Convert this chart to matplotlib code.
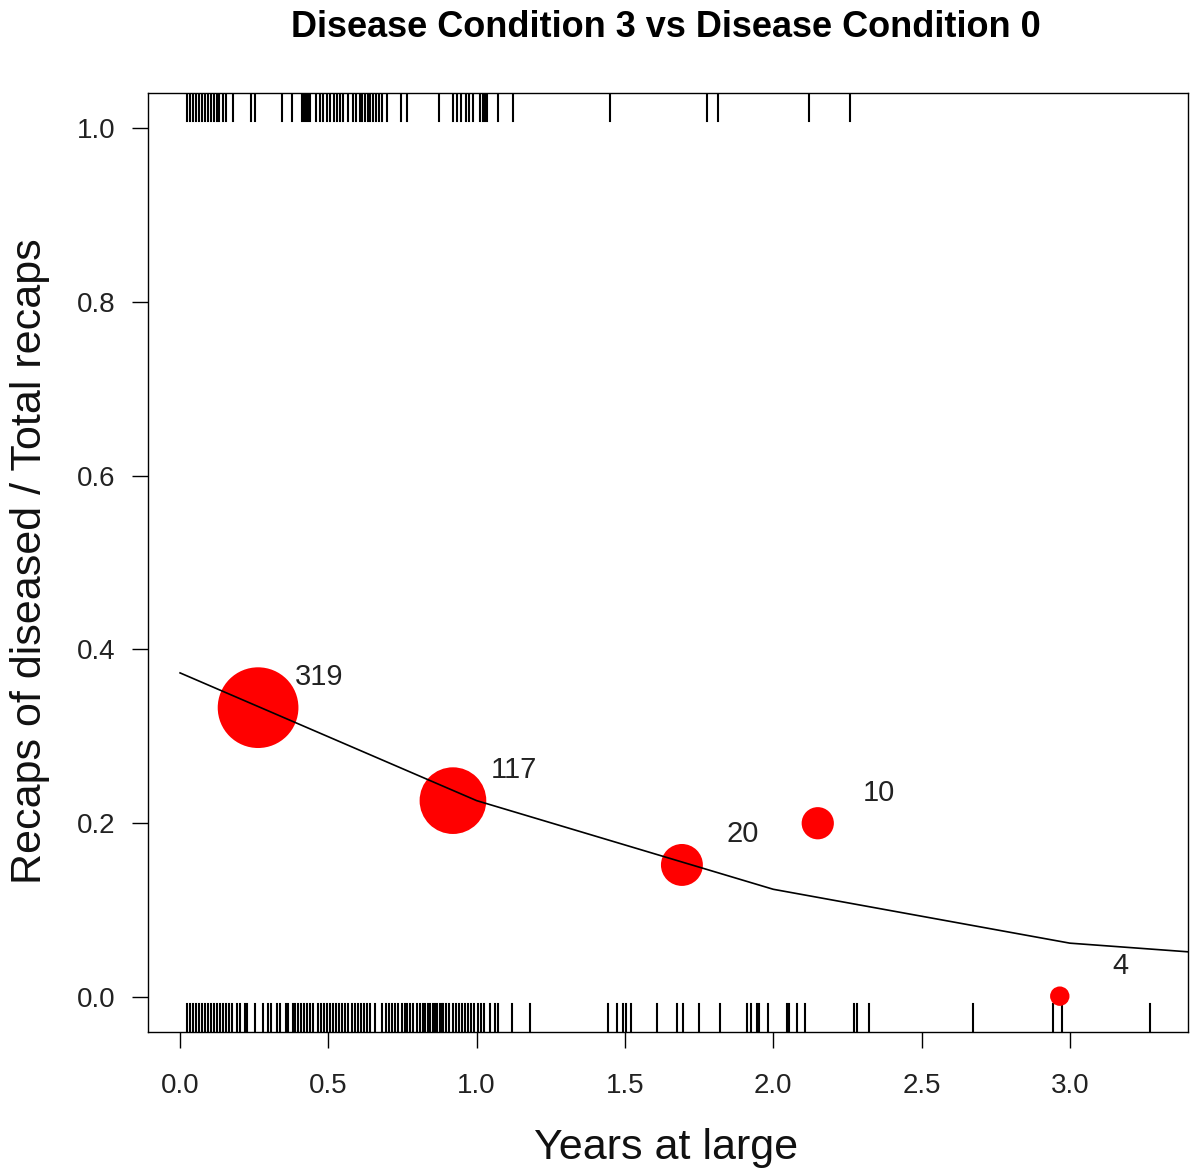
import matplotlib.pyplot as plt
import numpy as np

# binned proportions (bubbles) and counts
bin_years = [0.263, 0.920, 1.692, 2.150, 2.966]
bin_prop = [0.333, 0.226, 0.152, 0.200, 0.001]
bin_n = [319, 117, 20, 10, 4]

# fitted logistic curve vertices
fit_years = [0.0, 1.0, 2.0, 3.0, 3.4]
fit_prop = [0.373, 0.226, 0.124, 0.062, 0.052]

# rug: years at large of diseased recaps (plotted at top)
rug_diseased = [0.024, 0.034, 0.044, 0.054, 0.064, 0.074, 0.084, 0.094, 0.104, 0.115,
                0.125, 0.131, 0.145, 0.155, 0.179, 0.239, 0.253, 0.344, 0.377,
                0.411, 0.418, 0.425, 0.431, 0.438, 0.458, 0.472, 0.482, 0.495, 0.506,
                0.519, 0.529, 0.539, 0.549, 0.566, 0.583, 0.593, 0.607, 0.613, 0.624,
                0.634, 0.640, 0.650, 0.661, 0.671, 0.681, 0.698, 0.745, 0.765, 0.873,
                0.920, 0.934, 0.947, 0.964, 0.974, 0.987, 1.011, 1.021, 1.028, 1.035,
                1.072, 1.122, 1.449, 1.776, 1.813, 2.120, 2.258]

# rug: years at large of healthy recaps (plotted at bottom)
rug_healthy = [0.024, 0.034, 0.044, 0.054, 0.064, 0.074, 0.084, 0.094, 0.104, 0.115,
               0.125, 0.135, 0.145, 0.155, 0.165, 0.175, 0.192, 0.202, 0.219, 0.226,
               0.253, 0.280, 0.297, 0.307, 0.327, 0.337, 0.357, 0.364, 0.381, 0.388,
               0.398, 0.408, 0.418, 0.428, 0.438, 0.448, 0.465, 0.475, 0.485, 0.495,
               0.506, 0.516, 0.526, 0.536, 0.546, 0.556, 0.566, 0.580, 0.590, 0.600,
               0.610, 0.620, 0.630, 0.640, 0.657, 0.681, 0.694, 0.704, 0.715, 0.725,
               0.735, 0.748, 0.758, 0.765, 0.775, 0.785, 0.799, 0.809, 0.819, 0.826,
               0.836, 0.843, 0.853, 0.859, 0.866, 0.876, 0.883, 0.886, 0.897, 0.907,
               0.920, 0.930, 0.940, 0.950, 0.961, 0.971, 0.981, 0.991, 1.004, 1.014,
               1.025, 1.045, 1.062, 1.072, 1.119, 1.180, 1.443, 1.473, 1.493, 1.503,
               1.520, 1.608, 1.675, 1.695, 1.749, 1.820, 1.911, 1.925, 1.945, 1.951,
               1.982, 2.046, 2.053, 2.080, 2.107, 2.272, 2.282, 2.322, 2.673, 2.942,
               2.973, 3.269]

x_ticks = [0.0, 0.5, 1.0, 1.5, 2.0, 2.5, 3.0]
y_ticks = [0.0, 0.2, 0.4, 0.6, 0.8, 1.0]

plt.rcParams['font.family'] = ['Liberation Sans', 'DejaVu Sans']

fig = plt.figure(figsize=(11.9, 11.76), dpi=100)
ax = fig.add_axes([0.1244, 0.1224, 0.8736, 0.7985])
ax.set_xlim(-0.108, 3.397)
ax.set_ylim(-0.0403, 1.0403)

# rugs (drawn inward from the axes edges)
for yr in rug_healthy:
    ax.axvline(yr, ymin=0, ymax=0.03, color='black', lw=1.5)
for yr in rug_diseased:
    ax.axvline(yr, ymin=0.97, ymax=1.0, color='black', lw=1.5)

# fitted curve
ax.plot(fit_years, fit_prop, color='black', lw=1.2, zorder=3)

# bubbles, radius grows with log(count)
r_pt = 7.0 * np.log(np.array(bin_n)) * 72 / 100
ax.scatter(bin_years, bin_prop, s=(2 * r_pt) ** 2, color='#ff0000', edgecolors='none', zorder=2)
for xx, yy, n in zip(bin_years, bin_prop, bin_n):
    ax.annotate(str(n), (xx, yy), xytext=(44, 22), textcoords='offset points',
                ha='center', va='center', fontsize=21, color='#222222')

ax.set_xticks(x_ticks)
ax.set_xticklabels(['%.1f' % v for v in x_ticks])
ax.set_yticks(y_ticks)
ax.set_yticklabels(['%.1f' % v for v in y_ticks])
ax.tick_params(axis='both', direction='out', length=11.5, width=1, labelsize=20,
               labelcolor='#222222')
ax.tick_params(axis='x', pad=18)
ax.tick_params(axis='y', pad=12)
for sp in ax.spines.values():
    sp.set_linewidth(1.0)

fig.text(0.5597, 1 - 1148 / 1176, 'Years at large', ha='center', va='center',
         fontsize=31, color='#111111')
fig.text(0.0252, 1 - 561 / 1176, 'Recaps of diseased / Total recaps', ha='center',
         va='center', rotation=90, fontsize=31, color='#111111')
fig.text(0.5597, 0.977, 'Disease Condition 3 vs Disease Condition 0', ha='center', va='center',
         fontsize=26, fontweight='bold')

fig.savefig('out.png', dpi=100)
